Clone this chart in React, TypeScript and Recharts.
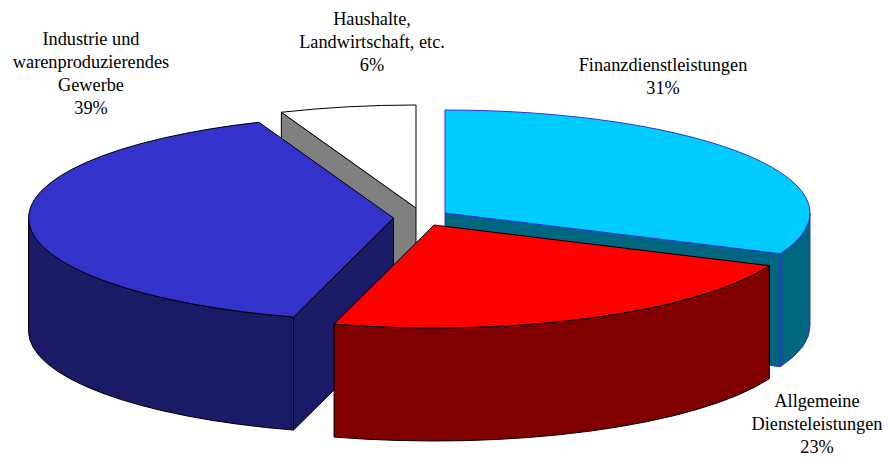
import React from 'react';
import { PieChart, Pie } from 'recharts';

// unrounded shares estimated from the wedge corners, the labels print them rounded
const sectors = ['Finanzdienstleistungen', 'Haushalte', 'Industrie', 'Allgemeine'];
const shares = [31.4, 6.0, 39.49, 22.9];
const labelLines = [
  ['Finanzdienstleistungen'],
  ['Haushalte,', 'Landwirtschaft, etc.'],
  ['Industrie und', 'warenproduzierendes', 'Gewerbe'],
  ['Allgemeine', 'Diensteleistungen'],
];

const topColors = ['#00ccff', '#ffffff', '#3333cc', '#ff0000'];
const sideColors = ['#006680', '#808080', '#1a1a66', '#800000'];
const edgeColors = ['#3333cc', '#000000', '#000000', '#000000'];

// exploded apex of every wedge, relative to the pie centre
const explodeX = [25, -4, -26.5, 14];
const explodeY = [-2, -7, 3, 10];
const labelX = [663, 372, 91, 817];
const labelY = [71, 25, 45, 407];

const CX = 420;
const CY = 215;
const RX = 365;
const TILT = 103 / 365;
const DEPTH = 113;
const LINE = 23;

const total = shares.reduce((a, b) => a + b, 0);
// the first wedge in draw order ends at the top, going counter-clockwise
const firstAngle = 90 - (360 * shares[0]) / total;

const rad = (d: number) => (d * Math.PI) / 180;

const Wedge = (props: any) => {
  const { cx, cy, outerRadius, startAngle, endAngle, index } = props;
  const rx = outerRadius;
  const ry = outerRadius * TILT;
  const ax = cx + explodeX[index];
  const ay = cy + explodeY[index];
  // clockwise angles from twelve o'clock, kept in 0..360
  let a0 = 90 - Math.max(startAngle, endAngle);
  let a1 = 90 - Math.min(startAngle, endAngle);
  if (a1 <= 1e-6) {
    a0 += 360;
    a1 += 360;
  }
  const pt = (a: number) => [ax + rx * Math.sin(rad(a)), ay - ry * Math.cos(rad(a))];
  const [x0, y0] = pt(a0);
  const [x1, y1] = pt(a1);
  const large = a1 - a0 > 180 ? 1 : 0;
  const common = { stroke: edgeColors[index], strokeWidth: 1, strokeLinejoin: 'round' as const };

  const cut = (x: number, y: number) =>
    `M${ax},${ay} L${x},${y} L${x},${y + DEPTH} L${ax},${ay + DEPTH} Z`;

  const w0 = Math.max(a0, 90);
  const w1 = Math.min(a1, 270);
  let wall = '';
  if (w0 < w1) {
    const [wx0, wy0] = pt(w0);
    const [wx1, wy1] = pt(w1);
    wall = `M${wx0},${wy0} A${rx},${ry} 0 0 1 ${wx1},${wy1} L${wx1},${wy1 + DEPTH} A${rx},${ry} 0 0 0 ${wx0},${wy0 + DEPTH} Z`;
  }

  return (
    <g>
      {Math.sin(rad(a0)) < -1e-6 && <path d={cut(x0, y0)} fill={sideColors[index]} {...common} />}
      {Math.sin(rad(a1)) > 1e-6 && <path d={cut(x1, y1)} fill={sideColors[index]} {...common} />}
      {wall && <path d={wall} fill={sideColors[index]} {...common} />}
      <path
        d={`M${ax},${ay} L${x0},${y0} A${rx},${ry} 0 ${large} 1 ${x1},${y1} Z`}
        fill={topColors[index]}
        {...common}
      />
    </g>
  );
};

const SliceLabel = (props: any) => {
  const { index, value } = props;
  const lines = [...labelLines[index], `${Math.round(value)}%`];
  return (
    <text
      x={labelX[index]}
      y={labelY[index]}
      textAnchor="middle"
      fontFamily="'Liberation Serif', serif"
      fontSize={18.3}
      fill="#000000"
    >
      {lines.map((line, i) => (
        <tspan key={line} x={labelX[index]} dy={i === 0 ? 0 : LINE}>
          {line}
        </tspan>
      ))}
    </text>
  );
};

const data = sectors.map((name, i) => ({ name, value: shares[i] }));

export default function App() {
  return (
    <div style={{ position: 'absolute', left: 0, top: 0, width: 888, height: 458, background: '#fff' }}>
      <PieChart width={888} height={458} margin={{ top: 0, right: 0, bottom: 0, left: 0 }} accessibilityLayer={false}>
        <Pie
          data={data}
          dataKey="value"
          nameKey="name"
          cx={CX}
          cy={CY}
          innerRadius={0}
          outerRadius={RX}
          startAngle={firstAngle}
          endAngle={firstAngle + 360}
          paddingAngle={0}
          stroke="none"
          shape={Wedge}
          label={SliceLabel}
          labelLine={false}
          isAnimationActive={false}
        />
      </PieChart>
    </div>
  );
}
